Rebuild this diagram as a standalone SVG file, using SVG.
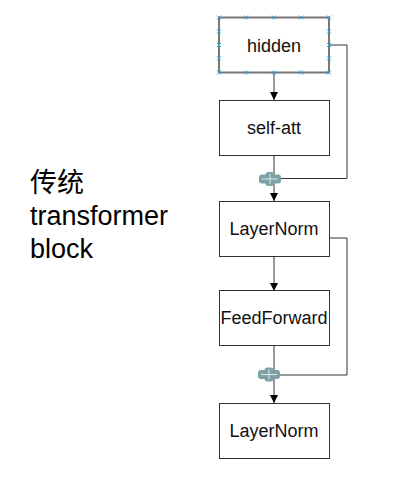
<svg xmlns="http://www.w3.org/2000/svg" width="403" height="480" viewBox="0 0 403 480">
<style>
.box{fill:#fff;stroke:#333;stroke-width:1}
.sel{fill:#fff;stroke:#777;stroke-width:2}
.lbl{font-family:"Liberation Sans",Arial,sans-serif;font-size:18px;fill:#111;text-anchor:middle}
.title{font-family:"Liberation Sans","Noto Sans CJK SC",sans-serif;font-size:27px;fill:#000}
.ln{fill:none;stroke:#333;stroke-width:1}
.h{stroke:#29a8e0;stroke-width:1}
.plus{fill:#7fa0a4}
.plusl{stroke:#d6ecec;stroke-width:1}
</style>
<defs>
<marker id="arr" viewBox="0 0 8 8" refX="8" refY="4" markerWidth="8" markerHeight="8" markerUnits="userSpaceOnUse" orient="auto">
<path d="M0,0 L8,4 L0,8 Z" fill="#000"/>
</marker>
<g id="plusShape">
<rect class="plus" x="-11" y="-4.5" width="22" height="9" rx="3"/>
<rect class="plus" x="-4.5" y="-7" width="9" height="14" rx="3"/>
<line class="plusl" x1="-8" y1="0" x2="8" y2="0"/>
<line class="plusl" x1="0" y1="-5" x2="0" y2="5"/>
</g>
</defs>
<rect width="403" height="480" fill="#fff"/>
<g id="title">
<text class="title" x="30" y="192">传统</text>
<text class="title" x="30" y="225">transformer</text>
<text class="title" x="30" y="258">block</text>
</g>
<g id="connectors">
<line class="ln" x1="274" y1="73" x2="274" y2="100" marker-end="url(#arr)"/>
<line class="ln" x1="274" y1="155" x2="274" y2="201" marker-end="url(#arr)"/>
<polyline class="ln" points="329,45 347,45 347,178.5 274,178.5"/>
<line class="ln" x1="274" y1="256" x2="274" y2="291" marker-end="url(#arr)"/>
<line class="ln" x1="274" y1="345" x2="274" y2="403" marker-end="url(#arr)"/>
<polyline class="ln" points="329,238 347,238 347,375 274,375"/>
</g>
<g id="plus1"><use href="#plusShape" x="270" y="179"/></g>
<g id="plus2"><use href="#plusShape" x="269" y="374.5"/></g>
<g id="hidden">
<rect class="sel" x="219" y="17.5" width="110" height="55"/>
<text class="lbl" x="274" y="52">hidden</text>
<g class="h">
<path d="M217,15.5l4,4M221,15.5l-4,4M244,15.5l4,4M248,15.5l-4,4M272,15.5l4,4M276,15.5l-4,4M299,15.5l4,4M303,15.5l-4,4M327,15.5l4,4M331,15.5l-4,4"/>
<path d="M217,70.5l4,4M221,70.5l-4,4M244,70.5l4,4M248,70.5l-4,4M272,70.5l4,4M276,70.5l-4,4M299,70.5l4,4M303,70.5l-4,4M327,70.5l4,4M331,70.5l-4,4"/>
<path d="M217,29.5l4,4M221,29.5l-4,4M217,43l4,4M221,43l-4,4M217,56.5l4,4M221,56.5l-4,4"/>
<path d="M327,29.5l4,4M331,29.5l-4,4M327,43l4,4M331,43l-4,4M327,56.5l4,4M331,56.5l-4,4"/>
</g>
</g>
<g id="selfatt">
<rect class="box" x="219.5" y="100.5" width="110" height="55"/>
<text class="lbl" x="274" y="134">self-att</text>
</g>
<g id="layernorm1">
<rect class="box" x="219.5" y="201.5" width="110" height="55"/>
<text class="lbl" x="274" y="235">LayerNorm</text>
</g>
<g id="feedforward">
<rect class="box" x="219.5" y="290.5" width="110" height="55"/>
<text class="lbl" x="274" y="324">FeedForward</text>
</g>
<g id="layernorm2">
<rect class="box" x="219.5" y="403.5" width="110" height="55"/>
<text class="lbl" x="274" y="437">LayerNorm</text>
</g>
</svg>
